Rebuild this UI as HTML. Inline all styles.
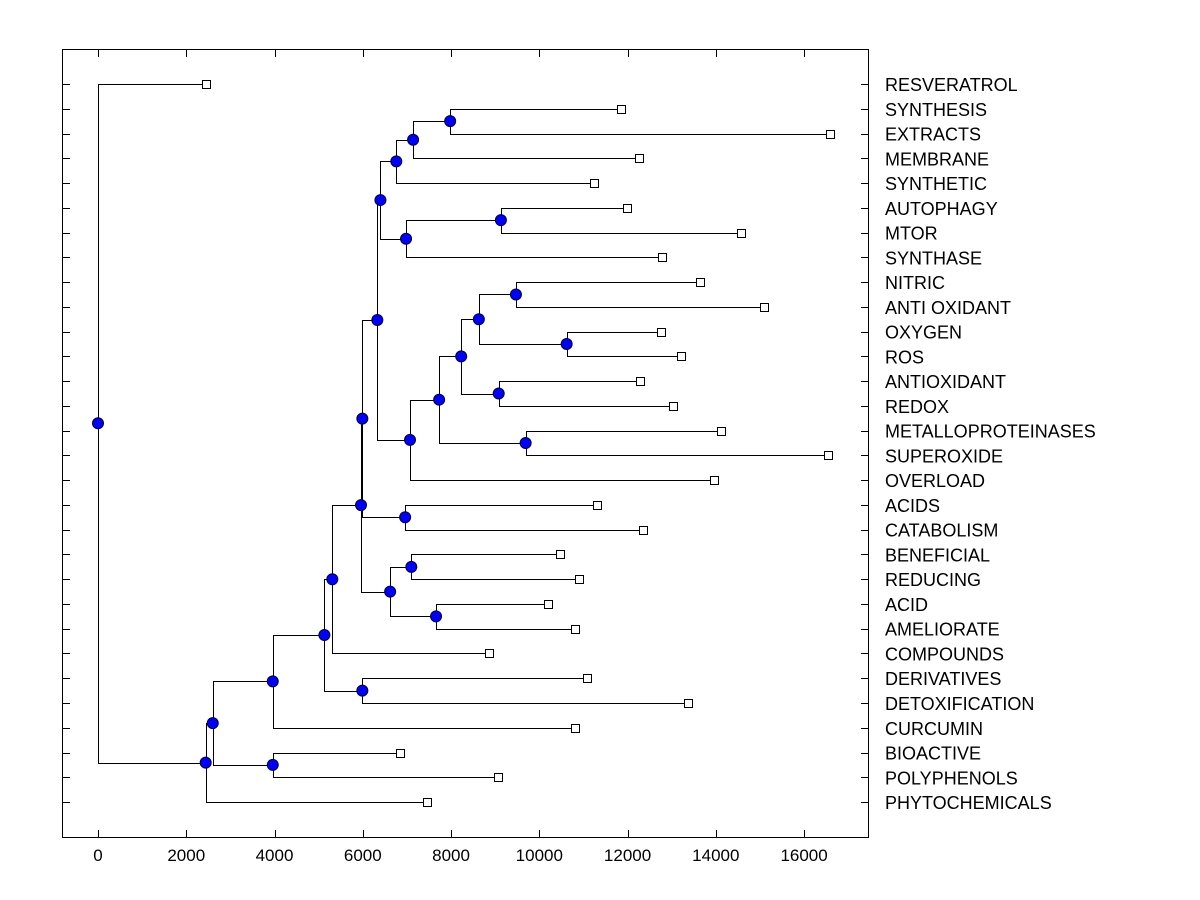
<!DOCTYPE html>
<html><head><meta charset="utf-8"><style>
html,body{margin:0;padding:0;background:#fff;}
svg{display:block;}
text{font-family:"Liberation Sans",Arial,sans-serif;font-size:18px;fill:#000;}
text.tick{font-size:17px;}
</style></head>
<body>
<svg id="chart" width="1200" height="900" viewBox="0 0 1200 900" xmlns="http://www.w3.org/2000/svg">
<rect x="0" y="0" width="1200" height="900" fill="#fff"/>
<rect x="62.5" y="49.5" width="806" height="788" fill="none" stroke="#000" stroke-width="1"/>
<g id="axes"></g>
<g id="tree"></g>
<g id="marks"></g>
</svg>
<script>
const leafNames = ["RESVERATROL","SYNTHESIS","EXTRACTS","MEMBRANE","SYNTHETIC","AUTOPHAGY","MTOR","SYNTHASE","NITRIC","ANTI OXIDANT","OXYGEN","ROS","ANTIOXIDANT","REDOX","METALLOPROTEINASES","SUPEROXIDE","OVERLOAD","ACIDS","CATABOLISM","BENEFICIAL","REDUCING","ACID","AMELIORATE","COMPOUNDS","DERIVATIVES","DETOXIFICATION","CURCUMIN","BIOACTIVE","POLYPHENOLS","PHYTOCHEMICALS"];
const leafValues = [2440,11860,16590,12250,11250,11980,14580,12790,13650,15100,12750,13200,12290,13020,14120,16540,13970,11300,12360,10460,10890,10190,10820,8860,11070,13360,10800,6850,9060,7450];
const mergeLeft  = [1,30,31,5,33,32,8,10,36,12,38,14,40,42,35,17,44,19,21,47,46,50,24,51,53,27,54,56,0];
const mergeRight = [2,3,4,6,7,34,9,11,37,13,39,15,41,16,43,18,45,20,22,48,49,23,25,52,26,28,55,29,57];
const mergeHeight= [7980,7140,6760,9130,6980,6400,9470,10620,8630,9080,8230,9690,7730,7070,6330,6960,5990,7100,7660,6620,5960,5310,5990,5130,3960,3960,2600,2440,0];
const xTicks = [0,2000,4000,6000,8000,10000,12000,14000,16000];

const NS="http://www.w3.org/2000/svg";
const X0=98, SX=0.04413, Y0=84, DY=24.76;
function xs(v){return X0+v*SX;}
function ys(i){return Y0+i*DY;}
function mk(tag,attrs,parent){const e=document.createElementNS(NS,tag);for(const k in attrs)e.setAttribute(k,attrs[k]);parent.appendChild(e);return e;}
const axes=document.getElementById('axes'),tree=document.getElementById('tree'),marks=document.getElementById('marks');

xTicks.forEach(t=>{
  const x=Math.round(xs(t))+0.5;
  const a=mk('line',{x1:x,x2:x,y1:830,y2:838,stroke:'#000'},axes);
  
  
  const b=mk('line',{x1:x,x2:x,y1:49,y2:57,stroke:'#000'},axes);
  
  
  const tx=mk('text',{x:xs(t),y:861,'text-anchor':'middle','class':'tick'},axes);
  tx.textContent=t;
  
  
});
leafNames.forEach((n,i)=>{
  const y=Math.round(ys(i))+0.5;
  const a=mk('line',{x1:62,x2:70,y1:y,y2:y,stroke:'#000'},axes);
  
  
  const b=mk('line',{x1:861,x2:869,y1:y,y2:y,stroke:'#000'},axes);
  
  
  const tx=mk('text',{x:885,y:ys(i)+7},axes);
  tx.textContent=n;
  
  
});

const N=leafNames.length;
const nodeX=[],nodeY=[];
leafNames.forEach((n,i)=>{nodeX[i]=xs(leafValues[i]);nodeY[i]=ys(i);});
mergeHeight.forEach((h,k)=>{
  const id=N+k,l=mergeLeft[k],r=mergeRight[k];
  nodeX[id]=xs(h);nodeY[id]=(nodeY[l]+nodeY[r])/2;
});
mergeHeight.forEach((h,k)=>{
  const id=N+k,l=mergeLeft[k],r=mergeRight[k];
  const x=Math.round(nodeX[id])+0.5;
  const p=mk('path',{d:`M${Math.round(nodeX[l])+0.5},${Math.round(nodeY[l])+0.5}H${x}V${Math.round(nodeY[r])+0.5}H${Math.round(nodeX[r])+0.5}`,fill:'none',stroke:'#000','stroke-width':1},tree);
  
  
});
leafNames.forEach((n,i)=>{
  const s=mk('rect',{x:Math.round(nodeX[i])-4+0.5,y:Math.round(nodeY[i])-4+0.5,width:8,height:8,fill:'#fff',stroke:'#000'},marks);
  
  
});
mergeHeight.forEach((h,k)=>{
  const id=N+k;
  const c=mk('circle',{cx:nodeX[id],cy:nodeY[id],r:5.5,fill:'#0000ff',stroke:'#000033','stroke-width':1},marks);
  
  
});
</script>
</body></html>
